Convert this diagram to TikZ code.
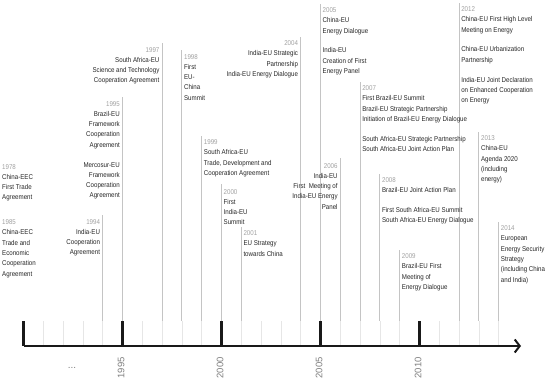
\documentclass[tikz,border=0pt]{standalone}
\usepackage{fontspec}
\setmainfont[FakeStretch=0.88]{Liberation Sans}
\newfontfamily\axisfont{Liberation Sans}
\usetikzlibrary{arrows.meta}
\definecolor{yeargray}{HTML}{A0A0A0}
\definecolor{txtgray}{HTML}{262626}
\definecolor{stemgray}{HTML}{C4C4C4}
\definecolor{tickgray}{HTML}{E6E6E6}
\definecolor{axgray}{HTML}{7F7F7F}
\newcommand{\yr}[1]{\textcolor{yeargray}{#1}}
\begin{document}
\begin{tikzpicture}[x=1pt, y=-1pt,
  evt/.style={font=\fontsize{7}{10.3}\selectfont, text=txtgray, inner sep=0pt},
  evtl/.style={evt, align=left, anchor=north west},
  evtr/.style={evt, align=right, anchor=north east},
  stem/.style={draw=stemgray, line width=1.1pt},
  minortick/.style={draw=tickgray, line width=0.8pt},
  majortick/.style={draw=black!90, line width=2.2pt},
  timeaxis/.style={draw=black!90, line width=2.2pt, -{Straight Barb[length=5pt, width=13pt, line width=2pt]}},
  axlabel/.style={font=\axisfont\fontsize{9.5}{12}\selectfont, text=axgray, inner sep=0pt, rotate=90, anchor=east}]
\useasboundingbox (0,0) rectangle (550,380);

% axis and ticks
\coordinate (base) at (0,321);
\coordinate (ax0) at (23.5,346);
\coordinate (axend) at (521,346);
\foreach \i in {1,...,24}
  \draw[minortick] (23.5+19.8*\i,321) -- (23.5+19.8*\i,346);

% event tops
\coordinate (t1994) at (102.7,215);
\coordinate (t1995) at (122.5,97);
\coordinate (t1997) at (162.1,43);
\coordinate (t1998) at (181.9,50);
\coordinate (t1999) at (201.7,136);
\coordinate (t2000) at (221.5,184);
\coordinate (t2001) at (241.3,227);
\coordinate (t2004) at (300.7,37);
\coordinate (t2005) at (320.5,4);
\coordinate (t2006) at (340.3,158);
\coordinate (t2007) at (360.1,82);
\coordinate (t2008) at (379.9,174);
\coordinate (t2009) at (399.7,250);
\coordinate (t2012) at (459.1,3);
\coordinate (t2013) at (478.9,132);
\coordinate (t2014) at (498.7,222);

\foreach \y in {1994,1995,1997,1998,1999,2000,2001,2004,2005,2006,2007,2008,2009,2012,2013,2014}
  \draw[stem] (t\y) -- (t\y |- base);

\foreach \x in {23.5,122.5,221.5,320.5,419.5}
  \draw[majortick] (\x,321) -- (\x,346);
\draw[timeaxis] (ax0) -- (axend);

% labels
\node[evtl] (l1978) at (2,164) {\yr{1978}\\China-EEC\\First Trade\\Agreement};
\node[evtl] (l1985) at (2,219.5) {\yr{1985}\\China-EEC\\Trade and\\Economic\\Cooperation\\Agreement};
\node[evtr] (l1994) at ([xshift=-2.5pt, yshift=-4pt]t1994) {\yr{1994}\\India-EU\\Cooperation\\Agreement};
\node[evtr] (l1995) at ([xshift=-2.5pt, yshift=-4pt]t1995) {\yr{1995}\\Brazil-EU\\Framework\\Cooperation\\Agreement\\[9.5pt]Mercosur-EU\\Framework\\Cooperation\\Agreement};
\node[evtr] (l1997) at ([xshift=-2.5pt, yshift=-4pt]t1997) {\yr{1997}\\South Africa-EU\\Science and Technology\\Cooperation Agreement};
\node[evtl] (l1998) at ([xshift=2pt, yshift=-4pt]t1998) {\yr{1998}\\First\\EU-\\China\\Summit};
\node[evtl] (l1999) at ([xshift=2pt, yshift=-3.5pt]t1999) {\yr{1999}\\South Africa-EU\\Trade, Development and\\Cooperation Agreement};
\node[evtl] (l2000) at ([xshift=2pt, yshift=-5pt]t2000) {\yr{2000}\\First\\India-EU\\Summit};
\node[evtl] (l2001) at ([xshift=2pt, yshift=-3.5pt]t2001) {\yr{2001}\\EU Strategy\\towards China};
\node[evtr] (l2004) at ([xshift=-2.5pt, yshift=-3.5pt]t2004) {\yr{2004}\\India-EU Strategic\\Partnership\\India-EU Energy Dialogue};
\node[evtl] (l2005) at ([xshift=2pt, yshift=-3.5pt]t2005) {\yr{2005}\\China-EU\\Energy Dialogue\\[9.5pt]India-EU\\Creation of First\\Energy Panel};
\node[evtr] (l2006) at ([xshift=-2.5pt, yshift=-5pt]t2006) {\yr{2006}\\India-EU\\First~ Meeting of\\India-EU Energy\\Panel};
\node[evtl] (l2007) at ([xshift=2pt, yshift=-3.5pt]t2007) {\yr{2007}\\First Brazil-EU Summit\\Brazil-EU Strategic Partnership\\Initiation of Brazil-EU Energy Dialogue\\[9.5pt]South Africa-EU Strategic Partnership\\South Africa-EU Joint Action Plan};
\node[evtl] (l2008) at ([xshift=2pt, yshift=-3.5pt]t2008) {\yr{2008}\\Brazil-EU Joint Action Plan\\[9.5pt]First South Africa-EU Summit\\South Africa-EU Energy Dialogue};
\node[evtl] (l2009) at ([xshift=2pt, yshift=-3.5pt]t2009) {\yr{2009}\\Brazil-EU First\\Meeting of\\Energy Dialogue};
\node[evtl] (l2012) at ([xshift=2pt, yshift=-3.5pt]t2012) {\yr{2012}\\China-EU First High Level\\Meeting on Energy\\[9.5pt]China-EU Urbanization\\Partnership\\[9.5pt]India-EU Joint Declaration\\on Enhanced Cooperation\\on Energy};
\node[evtl] (l2013) at ([xshift=2pt, yshift=-3.5pt]t2013) {\yr{2013}\\China-EU\\Agenda 2020\\(including\\energy)};
\node[evtl] (l2014) at ([xshift=2pt, yshift=-3.5pt]t2014) {\yr{2014}\\European\\Energy Security\\Strategy\\(including China\\and India)};

% axis years
\node[axlabel] (a1995) at (121,357) {1995};
\node[axlabel] (a2000) at (220,357) {2000};
\node[axlabel] (a2005) at (319,357) {2005};
\node[axlabel] (a2010) at (418,357) {2010};
\node[font=\axisfont\fontsize{10}{12}\selectfont, text=axgray, inner sep=0pt] (dots) at (72,368) {...};
\end{tikzpicture}
\end{document}
